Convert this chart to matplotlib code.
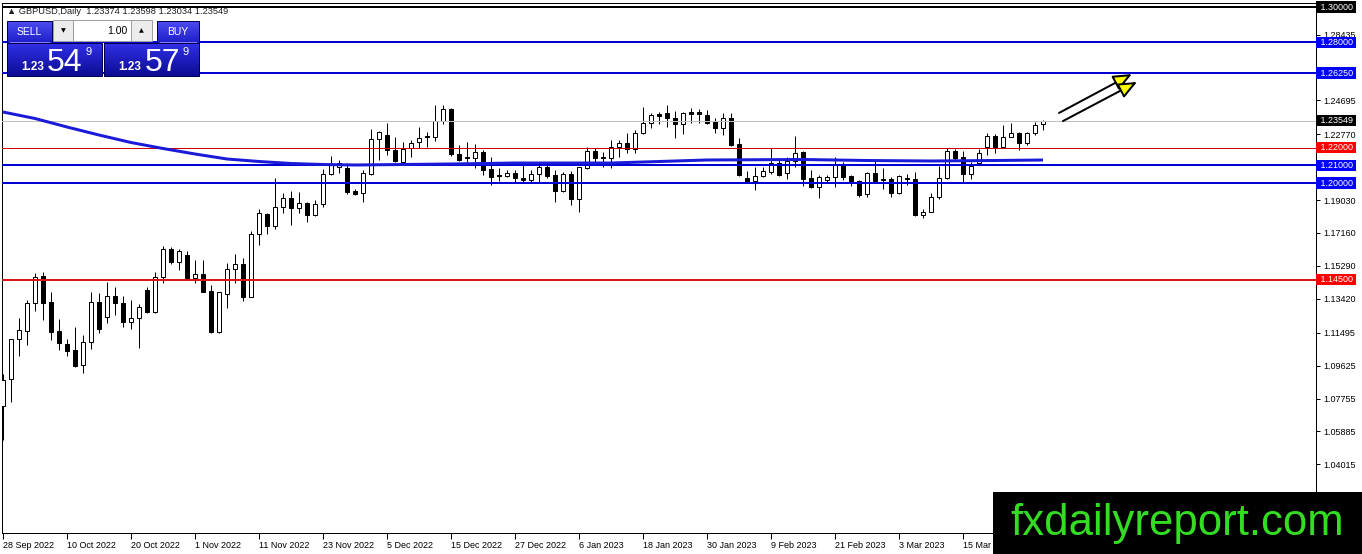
import numpy as np
import matplotlib
matplotlib.use('Agg')
import matplotlib.pyplot as plt
from matplotlib.patches import Rectangle, FancyArrowPatch
from matplotlib.colors import to_rgb

plt.rcParams['font.family'] = ['Liberation Sans', 'DejaVu Sans']

# ---------------- data ----------------
symbol = 'GBPUSD,Daily'
header_ohlc = ['1.23374', '1.23598', '1.23034', '1.23549']

opens = [1.0733, 1.0886, 1.1114, 1.1159, 1.1318, 1.1472, 1.1324, 1.1159, 1.1085, 1.1051,
         1.0966, 1.1097, 1.1324, 1.1239, 1.1358, 1.1318, 1.1210, 1.1233, 1.1392, 1.1267,
         1.1466, 1.1625, 1.1551, 1.1591, 1.1460, 1.1483, 1.1386, 1.1153, 1.1369, 1.1511,
         1.1540, 1.1352, 1.1710, 1.1824, 1.1756, 1.1864, 1.1915, 1.1858, 1.1886, 1.1818,
         1.1881, 1.2051, 1.2091, 1.2085, 1.1955, 1.1943, 1.2051, 1.2250, 1.2273, 1.2188,
         1.2119, 1.2199, 1.2233, 1.2267, 1.2261, 1.2352, 1.2420, 1.2165, 1.2148, 1.2142,
         1.2176, 1.2080, 1.2045, 1.2040, 1.2057, 1.2028, 1.2017, 1.2051, 1.2091, 1.2045,
         1.1955, 1.2051, 1.1909, 1.2085, 1.2182, 1.2148, 1.2142, 1.2205, 1.2227, 1.2193,
         1.2284, 1.2341, 1.2392, 1.2398, 1.2369, 1.2335, 1.2403, 1.2403, 1.2386, 1.2347,
         1.2313, 1.2369, 1.2222, 1.2028, 1.2011, 1.2040, 1.2063, 1.2114, 1.2057, 1.2125,
         1.2176, 1.2028, 1.1977, 1.2017, 1.2034, 1.2102, 1.2040, 1.2011, 1.1938, 1.2057,
         1.2023, 1.2023, 1.1943, 1.2028, 1.2023, 1.1818, 1.1835, 1.1920, 1.2028, 1.2182,
         1.2148, 1.2051, 1.2114, 1.2205, 1.2267, 1.2205, 1.2261, 1.2284, 1.2227, 1.2284,
         1.23374]
highs = [1.0915, 1.1114, 1.1233, 1.1335, 1.1489, 1.1494, 1.1381, 1.1227, 1.1114, 1.1182,
         1.1136, 1.1381, 1.1375, 1.1438, 1.1409, 1.1358, 1.1335, 1.1313, 1.1409, 1.1494,
         1.1642, 1.1636, 1.1625, 1.1614, 1.1563, 1.1563, 1.1420, 1.1381, 1.1545, 1.1597,
         1.1574, 1.1727, 1.1852, 1.1830, 1.2028, 1.1943, 1.1955, 1.1949, 1.1890, 1.1903,
         1.2080, 1.2153, 1.2131, 1.2114, 1.1966, 1.2074, 1.2307, 1.2295, 1.2341, 1.2261,
         1.2233, 1.2244, 1.2318, 1.2290, 1.2443, 1.2443, 1.2426, 1.2216, 1.2233, 1.2222,
         1.2188, 1.2148, 1.2085, 1.2074, 1.2074, 1.2119, 1.2074, 1.2108, 1.2102, 1.2074,
         1.2063, 1.2068, 1.2091, 1.2205, 1.2199, 1.2176, 1.2244, 1.2244, 1.2284, 1.2301,
         1.2432, 1.2398, 1.2403, 1.2443, 1.2409, 1.2403, 1.2426, 1.2420, 1.2415, 1.2369,
         1.2398, 1.2398, 1.2256, 1.2068, 1.2091, 1.2091, 1.2199, 1.2131, 1.2148, 1.2267,
         1.2182, 1.2074, 1.2045, 1.2045, 1.2148, 1.2119, 1.2045, 1.2017, 1.2063, 1.2136,
         1.2085, 1.2034, 1.2045, 1.2051, 1.2063, 1.1852, 1.1943, 1.2097, 1.2199, 1.2193,
         1.2182, 1.2119, 1.2193, 1.2284, 1.2278, 1.2330, 1.2341, 1.2290, 1.2290, 1.2347,
         1.23598]
lows = [1.0540, 1.0756, 1.1017, 1.1080, 1.1273, 1.1222, 1.1108, 1.1051, 1.1017, 1.0955,
        1.0920, 1.1057, 1.1148, 1.1205, 1.1250, 1.1182, 1.1170, 1.1063, 1.1261, 1.1261,
        1.1432, 1.1540, 1.1506, 1.1455, 1.1432, 1.1378, 1.1148, 1.1148, 1.1290, 1.1432,
        1.1330, 1.1350, 1.1648, 1.1710, 1.1739, 1.1830, 1.1761, 1.1830, 1.1778, 1.1813,
        1.1864, 1.2045, 1.2057, 1.1938, 1.1932, 1.1892, 1.2045, 1.2131, 1.2159, 1.2119,
        1.2102, 1.2148, 1.2199, 1.2205, 1.2239, 1.2335, 1.2153, 1.2125, 1.2119, 1.2085,
        1.2045, 1.1989, 1.2011, 1.2034, 1.2006, 1.2006, 1.2006, 1.2006, 1.2028, 1.1892,
        1.1949, 1.1875, 1.1835, 1.2080, 1.2119, 1.2091, 1.2085, 1.2148, 1.2170, 1.2170,
        1.2278, 1.2313, 1.2335, 1.2318, 1.2256, 1.2278, 1.2341, 1.2341, 1.2335, 1.2284,
        1.2273, 1.2210, 1.2040, 1.2006, 1.1960, 1.2034, 1.2051, 1.2040, 1.2023, 1.2091,
        1.1983, 1.1972, 1.1915, 1.2006, 1.1977, 1.2017, 1.1983, 1.1920, 1.1920, 1.2006,
        1.1966, 1.1920, 1.1938, 1.1989, 1.1813, 1.1801, 1.1835, 1.1909, 1.2023, 1.2131,
        1.2006, 1.2023, 1.2102, 1.2159, 1.2170, 1.2205, 1.2261, 1.2188, 1.2216, 1.2273,
        1.23034]
closes = [1.0881, 1.1114, 1.1165, 1.1318, 1.1466, 1.1318, 1.1153, 1.1091, 1.1045, 1.0960,
          1.1097, 1.1324, 1.1170, 1.1358, 1.1318, 1.1210, 1.1233, 1.1295, 1.1267, 1.1466,
          1.1625, 1.1551, 1.1614, 1.1460, 1.1483, 1.1381, 1.1153, 1.1381, 1.1511, 1.1540,
          1.1352, 1.1710, 1.1830, 1.1756, 1.1864, 1.1915, 1.1858, 1.1886, 1.1818, 1.1881,
          1.2051, 1.2102, 1.2114, 1.1949, 1.1938, 1.2057, 1.2250, 1.2290, 1.2188, 1.2125,
          1.2193, 1.2227, 1.2256, 1.2261, 1.2352, 1.2420, 1.2165, 1.2131, 1.2142, 1.2176,
          1.2074, 1.2034, 1.2040, 1.2057, 1.2028, 1.2017, 1.2051, 1.2091, 1.2040, 1.1955,
          1.2051, 1.1909, 1.2091, 1.2182, 1.2142, 1.2142, 1.2205, 1.2227, 1.2193, 1.2284,
          1.2341, 1.2386, 1.2381, 1.2369, 1.2335, 1.2398, 1.2392, 1.2392, 1.2341, 1.2313,
          1.2369, 1.2216, 1.2045, 1.2011, 1.2040, 1.2068, 1.2114, 1.2045, 1.2125, 1.2170,
          1.2023, 1.1977, 1.2034, 1.2034, 1.2102, 1.2034, 1.2006, 1.1932, 1.2057, 1.2011,
          1.2017, 1.1943, 1.2040, 1.2023, 1.1818, 1.1835, 1.1920, 1.2028, 1.2182, 1.2142,
          1.2051, 1.2097, 1.2170, 1.2267, 1.2205, 1.2261, 1.2284, 1.2227, 1.2284, 1.2330,
          1.23549]

date_labels = ['28 Sep 2022', '10 Oct 2022', '20 Oct 2022', '1 Nov 2022', '11 Nov 2022',
               '23 Nov 2022', '5 Dec 2022', '15 Dec 2022', '27 Dec 2022', '6 Jan 2023',
               '18 Jan 2023', '30 Jan 2023', '9 Feb 2023', '21 Feb 2023', '3 Mar 2023',
               '15 Mar 2023']
date_step = 8  # bars between date labels

ma_idx = [0, 4, 8, 12, 16, 20, 24, 28, 32, 36, 40, 44, 56, 64, 76, 80, 88, 100, 108, 116, 124, 130]
ma_val = [1.24034, 1.23665, 1.23182, 1.22727, 1.22301, 1.21960, 1.21648, 1.21364, 1.21222,
          1.21108, 1.21051, 1.21023, 1.21080, 1.21136, 1.21136, 1.21193, 1.21307, 1.21335,
          1.21278, 1.21250, 1.21278, 1.21307]

price_ticks = [1.04015, 1.05885, 1.07755, 1.09625, 1.11495, 1.13420, 1.15290, 1.17160,
               1.19030, 1.20900, 1.22770, 1.24695, 1.26565, 1.28435]
# tick values whose text is covered by a level label in the chart
covered_ticks = [1.20900, 1.26565]

levels = [1.30, 1.28, 1.2625, 1.22, 1.21, 1.20, 1.145]
level_colors = ['#000000', '#0000d4', '#0000d4', '#d00000', '#0000d4', '#0000d4', '#d81818']
level_px = [2, 2, 2, 1, 2, 2, 2]
level_label_bg = ['#000000', '#0000ff', '#0000ff', '#ff0000', '#0000ff', '#0000ff', '#ff0000']
current_price = 1.23549

arrow_starts = [(132.0, 1.2398), (132.5, 1.2352)]
arrow_ends = [(141.1, 1.2619), (141.75, 1.2574)]

sell_price = ('1.23', '54', '9')
buy_price = ('1.23', '57', '9')
lot_text = '1.00'
watermark = 'fxdailyreport.com'

# ---------------- figure ----------------
W, H = 1362, 554
PX = 0.72  # points per pixel at dpi 100
fig = plt.figure(figsize=(W / 100, H / 100), dpi=100, facecolor='white')
ax = fig.add_axes([2 / W, 21 / H, 1314 / W, 530 / H])
ax.set_facecolor('white')

n = len(opens)
idx = np.arange(n)
o = np.array(opens); h = np.array(highs); l = np.array(lows); c = np.array(closes)
up = c >= o

# wicks
ax.vlines(idx + 0.06, l, h, colors='black', linewidth=PX, zorder=3)
# bodies
bottoms = np.minimum(o, c)
heights = np.abs(c - o)
ax.bar(idx + 0.06, heights, bottom=bottoms, width=0.5,
       color=np.where(up, 'white', 'black'), edgecolor='black', linewidth=PX, zorder=4)

# horizontal levels
ax.axhline(current_price, color='#c0c0c0', linewidth=PX, zorder=5)
for lv, col, wpx in zip(levels, level_colors, level_px):
    ax.axhline(lv, color=col, linewidth=wpx * PX, zorder=5)

# moving average
ax.plot(ma_idx, ma_val, color='#1a1ad8', linewidth=3 * PX, zorder=6, solid_capstyle='butt')

# arrows
for s, e in zip(arrow_starts, arrow_ends):
    arr = FancyArrowPatch(s, e, arrowstyle='-|>,head_length=0.75,head_width=0.32',
                          mutation_scale=15, facecolor='#ffff00', edgecolor='black',
                          linewidth=2 * PX, shrinkA=0, shrinkB=0, zorder=7)
    ax.add_patch(arr)

ax.set_xlim(-0.125, 164.125)
ax.set_ylim(1.001136, 1.302273)

# axes styling
for sp in ax.spines.values():
    sp.set_color('black')
    sp.set_linewidth(PX)

ax.yaxis.tick_right()
ax.set_yticks(price_ticks)
ax.set_yticklabels(['' if t in covered_ticks else f'{t:.5f}' for t in price_ticks])
ax.tick_params(axis='y', direction='out', length=3, width=PX, pad=2, labelsize=6.5,
               colors='black')

xt = list(range(0, date_step * len(date_labels), date_step))
ax.set_xticks([x + 0.06 for x in xt])
ax.set_xticklabels(date_labels)
ax.tick_params(axis='x', direction='out', length=4, width=PX, pad=2, labelsize=6.5,
               colors='black')
for lab in ax.get_xticklabels():
    lab.set_horizontalalignment('left')

# coloured price labels on the right
ytr = ax.get_yaxis_transform()
for lv, bg in zip(levels, level_label_bg):
    ax.text(1 + 1.5 / 1314, lv, f' {lv:.5f} ', transform=ytr, ha='left', va='center',
            fontsize=6.5, color='white', clip_on=False, zorder=20,
            bbox=dict(boxstyle='square,pad=0.12', fc=bg, ec='none'))
ax.text(1 + 1.5 / 1314, current_price, f' {current_price:.5f} ', transform=ytr, ha='left',
        va='center', fontsize=6.5, color='white', clip_on=False, zorder=20,
        bbox=dict(boxstyle='square,pad=0.12', fc='black', ec='none'))

# ---------------- overlay (trading panel, watermark) ----------------
ov = fig.add_axes([0, 0, 1, 1], zorder=10)
ov.axis('off')


def grad_box(x0, y0, x1, y1, c_top, c_bot, ec='#00004a'):
    t = np.linspace(0, 1, 64)[:, None]
    a = np.array(to_rgb(c_top)); b = np.array(to_rgb(c_bot))
    img = (a * (1 - t) + b * t)[:, None, :]
    ov.imshow(img, extent=[x0, x1, y1, y0], aspect='auto', interpolation='bilinear', zorder=1)
    ov.add_patch(Rectangle((x0, y0), x1 - x0, y1 - y0, fill=False, ec=ec, lw=PX, zorder=2))


# header text
ov.text(7, 13.5, '\u25B2 ' + symbol + '  ' + ' '.join(header_ohlc), fontsize=6.7,
        color='#202020', ha='left', va='baseline', zorder=3)

# SELL / BUY buttons
grad_box(7, 21, 52, 43, '#4c4cf2', '#1e1ec8')
grad_box(157, 21, 199, 43, '#4c4cf2', '#1e1ec8')
ov.text(29.5, 35, 'SELL', fontsize=7.5, color='white', ha='center', va='baseline', zorder=3)
ov.text(178, 35, 'BUY', fontsize=7.5, color='white', ha='center', va='baseline', zorder=3)
ov.plot([10, 49], [42, 42], color='#8080ff', lw=PX, zorder=3)
ov.plot([160, 196], [42, 42], color='#8080ff', lw=PX, zorder=3)

# lot selector
ov.add_patch(Rectangle((53, 20), 20, 21, fc='#ececec', ec='#a0a0a0', lw=PX, zorder=2))
ov.add_patch(Rectangle((73, 20), 58, 21, fc='white', ec='#a0a0a0', lw=PX, zorder=2))
ov.add_patch(Rectangle((131, 20), 21, 21, fc='#ececec', ec='#a0a0a0', lw=PX, zorder=2))
ov.text(63, 30.5, '\u25BC', fontsize=4.5, color='black', ha='center', va='center',
        family=['DejaVu Sans'], zorder=3)
ov.text(141.5, 30.5, '\u25B2', fontsize=4.5, color='black', ha='center', va='center',
        family=['DejaVu Sans'], zorder=3)
ov.text(127, 34, lot_text, fontsize=7.5, color='black', ha='right', va='baseline', zorder=3)

# price boxes
for (x0, x1, pr) in [(7, 102, sell_price), (104, 199, buy_price)]:
    grad_box(x0, 43, x1, 76, '#3030e8', '#0c0c94')
    ov.text(x0 + 26, 70, pr[0], fontsize=8.5, fontweight='bold', color='white',
            ha='center', va='baseline', zorder=3)
    ov.text(x0 + 58, 71, pr[1], fontsize=23, color='white', ha='center', va='baseline', zorder=3)
    ov.text(x0 + 81.5, 55, pr[2], fontsize=8, color='white', ha='center', va='baseline', zorder=3)

# watermark
ov.add_patch(Rectangle((993, 492), 369, 64, fc='black', ec='none', zorder=4))
ov.text(1010, 535, watermark, fontsize=31.5, color='#33dd22', ha='left', va='baseline',
        family=['Liberation Sans'], zorder=5)

ov.set_xlim(0, W)
ov.set_ylim(H, 0)

fig.savefig('out.png', dpi=100, facecolor='white')
